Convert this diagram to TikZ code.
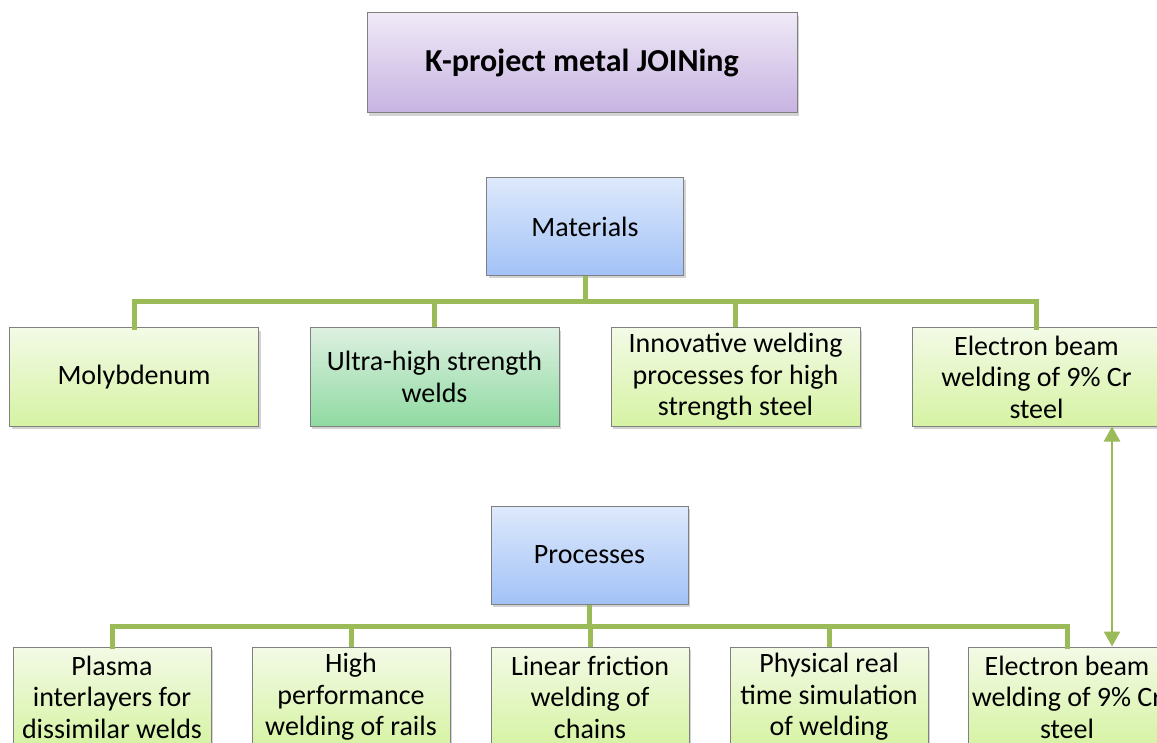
\documentclass[tikz,border=0pt]{standalone}
\usepackage{fontspec}
\setmainfont{Carlito}
\usetikzlibrary{arrows.meta,shadows}
\definecolor{busgreen}{HTML}{9BBB59}
\definecolor{boxborder}{HTML}{808080}
\definecolor{gtop}{HTML}{F3FAE6}
\definecolor{gbot}{HTML}{D6F3A3}
\definecolor{ttop}{HTML}{DDF0E1}
\definecolor{tbot}{HTML}{8FDAA1}
\definecolor{btop}{HTML}{DEE9FC}
\definecolor{bbot}{HTML}{A2C2F6}
\definecolor{ptop}{HTML}{EFE9F7}
\definecolor{pbot}{HTML}{C7B3E1}
\tikzset{
  basebox/.style={draw=boxborder, line width=1pt, align=center, inner sep=0pt,
    font=\fontsize{28}{31.5}\selectfont,
    drop shadow={opacity=0.35, shadow xshift=2pt, shadow yshift=-3pt}},
  titlebox/.style={basebox, minimum width=430pt, minimum height=100pt,
    top color=ptop, bottom color=pbot, font=\fontsize{32}{36}\selectfont\bfseries},
  headbox/.style={basebox, minimum width=197pt, minimum height=98pt,
    top color=btop, bottom color=bbot},
  matbox/.style={basebox, minimum width=249pt, minimum height=98pt,
    top color=gtop, bottom color=gbot},
  tealbox/.style={matbox, top color=ttop, bottom color=tbot},
  procbox/.style={basebox, minimum width=198pt, minimum height=100pt,
    top color=gtop, bottom color=gbot},
  bus/.style={draw=busgreen, line width=5pt},
  link/.style={draw=busgreen, line width=2.5pt,
    {Triangle[width=16pt,length=15pt]}-{Triangle[width=16pt,length=15pt]}},
}
\begin{document}
\begin{tikzpicture}[x=1pt,y=-1pt]
\useasboundingbox (0,0) rectangle (1157,743);
\clip (0,0) rectangle (1157,743);
\node[titlebox] (title) at (582,63) {K-project metal JOINing};
\node[headbox] (mat) at (585,226.5) {Materials};
\node[matbox] (m1) at (134,377) {Molybdenum};
\node[tealbox] (m2) at (434.5,377) {Ultra-high strength\\welds};
\node[matbox] (m3) at (735.5,377) {Innovative welding\\processes for high\\strength steel};
\node[matbox] (m4) at (1036.5,377) {Electron beam\\welding of 9\% Cr\\steel};
\node[headbox] (proc) at (589.5,555) {Processes};
\node[procbox] (p1) at (112,697) {Plasma\\interlayers for\\dissimilar welds};
\node[procbox] (p2) at (351,697) {High\\performance\\welding of rails};
\node[procbox] (p3) at (590,697) {Linear friction\\welding of\\chains};
\node[procbox] (p4) at (829,697) {Physical real\\time simulation\\of welding};
\node[procbox] (p5) at (1067,697) {Electron beam\\welding of 9\% Cr\\steel};
\coordinate (mb) at (585,302);
\coordinate (pb) at (589.5,626);
\draw[bus] (mat.south) -- (mb);
\draw[bus, line cap=rect] (m1.north) |- (mb);
\draw[bus] (m2.north) |- (mb);
\draw[bus] (m3.north) |- (mb);
\draw[bus, line cap=rect] (m4.north) |- (mb);
\draw[bus] (proc.south) -- (pb);
\draw[bus, line cap=rect] (p1.north) |- (pb);
\draw[bus] (p2.north) |- (pb);
\draw[bus] (p3.north) |- (pb);
\draw[bus] (p4.north) |- (pb);
\draw[bus, line cap=rect] (p5.north) |- (pb);
\coordinate (at) at (1112,427);
\coordinate (ab) at (1112,647);
\draw[link] (m4.south -| at) -- (p5.north -| ab);
\end{tikzpicture}
\end{document}
